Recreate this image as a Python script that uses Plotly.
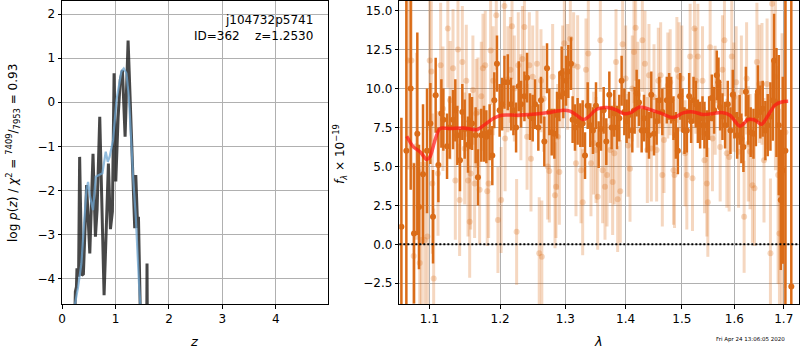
import plotly.graph_objects as go
import numpy as np

# ---------------- left panel: log p(z) ----------------
z_pz = [0.22, 0.24, 0.25, 0.27, 0.28, 0.31, 0.33, 0.37, 0.40, 0.46, 0.52, 0.58, 0.625,
        0.656, 0.706, 0.787, 0.83, 0.868, 0.906, 0.943, 0.974, 1.006, 1.05, 1.09, 1.13,
        1.18, 1.236, 1.36, 1.38, 1.415, 1.43, 1.47, 1.50, 1.585, 1.59, 1.60, 1.70]
logp_pz = [-6.0, -4.6, -4.3, -4.19, -3.77, -3.96, -1.24, -3.93, -3.9, -1.88, -3.43, -1.17,
           -3.05, -2.45, -0.33, -4.38, -2.6, -1.39, -2.88, -2.48, 0.66, -1.8, -0.33, 0.51,
           0.73, -0.78, 1.40, -2.86, -1.65, -2.85, -2.6, -4.7, -7.0, -5.0, -3.66, -6.0, -8.0]

z_tmpl = [0.22, 0.24, 0.30, 0.363, 0.41, 0.457, 0.488, 0.525, 0.58, 0.631, 0.693, 0.756,
          0.818, 0.856, 0.89, 0.955, 1.019, 1.068, 1.11, 1.155, 1.205, 1.25, 1.287, 1.33,
          1.38, 1.405, 1.44, 1.47, 1.50]
logp_tmpl = [-5.5, -4.6, -4.2, -3.66, -2.8, -1.99, -1.81, -2.14, -2.45, -1.69, -1.65, -1.61,
             -1.12, -1.35, -1.24, -0.86, 0.05, 0.43, 0.70, 0.77, 0.66, 0.13, -0.78, -1.69,
             -2.6, -3.36, -4.11, -4.7, -5.5]

z_ticks = [0, 1, 2, 3, 4]
logp_ticks = [-4, -3, -2, -1, 0, 1, 2]

# ---------------- right panel: spectrum ----------------
lam_bin = [1.0629, 1.0694, 1.0751, 1.0795, 1.0839, 1.0861, 1.0915, 1.0969, 1.1014, 1.1050,
           1.1086, 1.1123, 1.1164, 1.1191, 1.1242, 1.1278, 1.1325, 1.1357, 1.1385, 1.1422,
           1.1455, 1.1488, 1.1535, 1.1559, 1.1592, 1.1644, 1.1677, 1.1725, 1.1764, 1.1798,
           1.1846, 1.1885, 1.1914, 1.1953, 1.1992, 1.2029, 1.2063, 1.2113, 1.2162, 1.2197,
           1.2237, 1.2277, 1.2312, 1.2363, 1.2403, 1.2449, 1.2489, 1.2525, 1.2576, 1.2617,
           1.2669, 1.2711, 1.2747, 1.2784, 1.2826, 1.2868, 1.2905, 1.2942, 1.2968, 1.3011,
           1.3048, 1.3091, 1.3117, 1.3155, 1.3198, 1.3242, 1.3280, 1.3318, 1.3362, 1.3405,
           1.3449, 1.3499, 1.3543, 1.3582, 1.3627, 1.3671, 1.3722, 1.3761, 1.3806, 1.3852,
           1.3891, 1.3931, 1.3977, 1.4017, 1.4057, 1.4115, 1.4155, 1.4190, 1.4231, 1.4278,
           1.4319, 1.4366, 1.4407, 1.4448, 1.4496, 1.4543, 1.4591, 1.4645, 1.4726, 1.4768,
           1.4805, 1.4847, 1.4890, 1.4927, 1.4970, 1.5012, 1.5049, 1.5092, 1.5136, 1.5173,
           1.5217, 1.5260, 1.5298, 1.5341, 1.5386, 1.5423, 1.5468, 1.5512, 1.5563, 1.5607,
           1.5658, 1.5691, 1.5723, 1.5768, 1.5819, 1.5871, 1.5923, 1.5969, 1.6000, 1.6055,
           1.6104, 1.6138, 1.6179, 1.6228, 1.6276, 1.6324, 1.6380, 1.6428, 1.6469, 1.6518,
           1.6566, 1.6621, 1.6669, 1.6725, 1.6773, 1.6800, 1.6849, 1.6897, 1.6938, 1.6980,
           1.7035, 1.7159]
flux_bin = [1.13, 6.0, 10.0, 0.7, 7.1, 2.4, 4.5, 6.0, 7.75, 1.77,
            9.57, 5.1, 8.4, 8.0, 6.3, 7.5, 8.0, 8.6, 7.0, 5.4,
            8.5, 7.4, 6.4, 7.9, 7.75, 7.0, 4.3, 7.0, 7.1, 6.9,
            7.2, 5.7, 9.25, 11.6, 8.6, 9.0, 10.4, 10.4, 9.0, 8.6,
            7.5, 10.15, 9.0, 9.5, 10.7, 8.2, 8.1, 9.0, 7.5, 9.25,
            6.6, 11.3, 8.5, 7.2, 7.1, 8.3, 9.5, 11.0, 9.7, 10.5,
            11.1, 11.6, 8.0, 7.5, 7.9, 7.65, 7.75, 5.7, 8.9, 7.65,
            7.3, 8.9, 6.4, 7.4, 8.6, 6.6, 9.6, 7.5, 8.4, 7.5,
            8.1, 10.5, 8.5, 7.9, 8.3, 7.3, 8.6, 9.7, 9.1, 7.3,
            8.1, 7.3, 7.0, 9.6, 7.1, 7.9, 9.25, 8.5, 9.25, 9.5,
            9.25, 8.1, 7.0, 6.0, 9.5, 8.6, 7.3, 7.3, 9.5, 7.9,
            9.25, 9.0, 7.9, 7.65, 8.1, 7.65, 7.1, 8.1, 9.4, 8.6,
            10.85, 10.4, 8.8, 8.2, 7.65, 9.0, 7.3, 9.6, 8.3, 7.0,
            8.0, 6.8, 6.25, 9.8, 8.0, 7.2, 7.1, 8.0, 9.8, 8.5,
            8.7, 7.3, 7.65, 8.2, 9.25, 11.8, 9.1, 7.65, 2.85, 4.75,
            6.0, -2.7]
err_bin = [7.0, 14.0, 6.5, 4.5, 6.5, 4.0, 4.5, 4.0, 2.6, 3.0,
           2.4, 2.4, 2.2, 2.0, 2.1, 2.0, 1.9, 2.0, 1.9, 2.0,
           1.8, 1.9, 1.8, 1.8, 1.7, 1.8, 1.8, 1.7, 1.8, 1.7,
           1.8, 1.9, 1.8, 1.8, 1.7, 1.7, 1.7, 1.8, 1.7, 1.6,
           1.6, 1.6, 1.5, 1.6, 1.6, 1.5, 1.5, 1.6, 1.5, 1.5,
           1.6, 1.6, 1.5, 1.5, 1.6, 1.5, 1.6, 1.7, 1.6, 1.6,
           1.7, 1.7, 1.5, 1.5, 1.5, 1.4, 1.5, 1.5, 1.5, 1.4,
           1.5, 1.5, 1.5, 1.4, 1.5, 1.5, 1.5, 1.4, 1.5, 1.4,
           1.5, 1.6, 1.5, 1.4, 1.5, 1.4, 1.5, 1.5, 1.5, 1.4,
           1.5, 1.4, 1.5, 1.5, 1.4, 1.5, 1.5, 1.5, 1.5, 1.5,
           1.5, 1.4, 1.5, 1.5, 1.5, 1.4, 1.5, 1.4, 1.5, 1.4,
           1.5, 1.5, 1.4, 1.5, 1.4, 1.5, 1.5, 1.4, 1.5, 1.5,
           1.6, 1.6, 1.5, 1.5, 1.5, 1.5, 1.5, 1.6, 1.5, 1.5,
           1.6, 1.6, 1.6, 1.6, 1.6, 1.6, 1.6, 1.7, 1.7, 1.7,
           1.8, 1.9, 2.0, 2.2, 2.6, 3.0, 3.5, 4.5, 4.5, 6.0,
           25.0, 25.0]

lam_pix = [1.0715, 1.0760, 1.0791, 1.0827, 1.0871, 1.0893, 1.0938, 1.0974, 1.1005, 1.1027,
           1.1041, 1.1059, 1.1118, 1.1154, 1.1186, 1.1253, 1.1285, 1.1325, 1.1357, 1.1394,
           1.1417, 1.1455, 1.1488, 1.1511, 1.1535, 1.1559, 1.1573, 1.1605, 1.1629, 1.1652,
           1.1677, 1.1701, 1.1725, 1.1749, 1.1782, 1.1811, 1.1831, 1.1860, 1.1898, 1.1943,
           1.1967, 1.2014, 1.2063, 1.2073, 1.2113, 1.2152, 1.2176, 1.2211, 1.2245, 1.2270,
           1.2309, 1.2333, 1.2363, 1.2403, 1.2438, 1.2463,
           1.2489, 1.2555, 1.2590, 1.2617, 1.2630, 1.2659, 1.2721, 1.2747, 1.2799, 1.2836,
           1.2852, 1.2878, 1.2905, 1.2957, 1.2984, 1.3037, 1.3080, 1.3133, 1.3171, 1.3198,
           1.3253, 1.3280, 1.3334, 1.3372, 1.3416, 1.3460, 1.3499, 1.3527, 1.3571, 1.3610,
           1.3649, 1.3683, 1.3739, 1.3778, 1.3806, 1.3835, 1.3863, 1.3908, 1.3948, 1.4000,
           1.4040, 1.4075, 1.4115, 1.4144, 1.4173, 1.4213, 1.4290, 1.4336, 1.4378, 1.4407,
           1.4448, 1.4496, 1.4543, 1.4573, 1.4615, 1.4645, 1.4675,
           1.4744, 1.4787, 1.4847, 1.4866, 1.4909, 1.4951, 1.5000, 1.5061, 1.5092, 1.5154,
           1.5198, 1.5235, 1.5260, 1.5298, 1.5386, 1.5423, 1.5468, 1.5487, 1.5531, 1.5575,
           1.5627, 1.5723, 1.5768, 1.5806, 1.5852, 1.5897, 1.5949, 1.5990, 1.6035, 1.6083,
           1.6138, 1.6193, 1.6242, 1.6276, 1.6311, 1.6359, 1.6400, 1.6449, 1.6497, 1.6552,
           1.6593, 1.6656, 1.6725, 1.6759, 1.6828, 1.6883, 1.6911, 1.6966, 1.7035]
flux_pix = [11.8, 11.8, -0.75, 6.3, -1.2, 0.28, 0.28, 0.5, 11.8, 11.1,
            3.9, -2.2, 4.55, 11.5, 8.7, 13.85, 9.25, 11.3, 4.1, 12.5,
            2.85, 11.7, 6.15, 10.5, 4.1, 1.45, 4.55, 9.9, 3.9, 8.4,
            8.5, 3.5, 9.5, 11.3, 11.5, 3.4, 3.9, 12.45, 10.5, 14.7,
            1.56, 2.85, 15.3, 6.8, 10.6, 11.2, 14.0, 10.0, 0.8, 11.5,
            8.8, 11.9, 13.95, 6.9, 11.5, 5.5,
            10.75, 11.6, -0.58, 10.5, -0.79, 9.35, 5.0, 4.7, 10.75, 3.15,
            3.7, 6.9, 4.65, 10.75, 12.9, 10.75, 13.2, 11.5, 5.2, 11.4,
            4.75, 2.7, 11.2, 12.25, 5.2, 6.5, 6.05, 3.05, 13.1, 4.75,
            3.7, 4.45, 6.05, 4.0, 5.85, 11.7, 2.9, 3.4, 12.85, 10.65,
            6.35, 4.85, 10.0, 12.35, 13.9, 9.6, 13.1, 11.6, 6.05, 10.85,
            6.15, 9.45, 6.05, 10.5, 10.85, 4.45, 6.7,
            10.2, 10.4, 4.75, 4.45, 11.2, 10.75, 10.65, 5.85, 4.45, 12.05,
            4.25, 13.85, 10.5, 12.05, 10.5, 5.4, 3.9, 2.7, 12.65, 6.8,
            9.25, 6.25, 11.2, 13.1, 5.85, 5.6, 12.05, 9.45, 10.4, 5.95,
            9.8, 1.77, 10.65, 6.45, 5.95, 3.8, 3.6, 11.7, 10.3, 10.3,
            5.4, 10.3, -0.58, 15.45, 10.75, 4.45, 0.7, 4.55, 7.2]
err_pix = [7.0, 7.0, 6.0, 6.0, 6.0, 5.0, 5.0, 5.0, 4.5, 4.5,
           4.5, 4.5, 4.0, 4.0, 4.0, 3.8, 3.8, 3.8, 3.8, 3.8,
           3.6, 3.6, 3.6, 3.6, 3.6, 3.6, 3.6, 3.5, 3.5, 3.5,
           3.5, 3.5, 3.5, 3.5, 3.5, 3.5, 3.5, 3.5, 3.5, 3.5,
           3.4, 3.4, 3.4, 3.4, 3.4, 3.4, 3.4, 3.4, 3.4, 3.4,
           3.4, 3.4, 3.4, 3.4, 3.4, 3.4,
           3.3, 3.4, 3.6, 3.3, 3.6, 3.4, 3.4, 3.3, 3.4, 3.4,
           3.3, 3.4, 3.4, 3.3, 3.4, 3.4, 3.3, 3.4, 3.4, 3.3,
           3.4, 3.4, 3.3, 3.4, 3.4, 3.3, 3.4, 3.4, 3.3, 3.4,
           3.4, 3.3, 3.4, 3.4, 3.3, 3.4, 3.4, 3.3, 3.4, 3.4,
           3.3, 3.4, 3.4, 3.3, 3.4, 3.4, 3.3, 3.4, 3.4, 3.3,
           3.4, 3.4, 3.3, 3.4, 3.4, 3.3, 3.4,
           3.4, 3.4, 3.5, 3.4, 3.4, 3.5, 3.4, 3.4, 3.5, 3.4,
           3.4, 3.5, 3.4, 3.4, 3.5, 3.4, 3.4, 3.5, 3.4, 3.4,
           3.5, 3.5, 3.5, 3.6, 3.5, 3.5, 3.6, 3.5, 3.6, 3.6,
           3.6, 3.6, 3.6, 3.7, 3.7, 3.7, 3.7, 3.8, 3.8, 3.9,
           4.0, 4.2, 4.8, 6.0, 6.0, 7.0, 8.0, 9.0, 10.0]

lam_model = [1.0699, 1.0786, 1.0875, 1.0965, 1.1009, 1.1077, 1.1145, 1.1283, 1.1468, 1.1660,
             1.1755, 1.1899, 1.2023, 1.2246, 1.2448, 1.2706, 1.2968, 1.3075, 1.3183, 1.3291,
             1.3373, 1.3511, 1.3678, 1.3847, 1.3959, 1.4075, 1.4249, 1.4425, 1.4603, 1.4843,
             1.5027, 1.5213, 1.5400, 1.5590, 1.5752, 1.5913, 1.6110, 1.6275, 1.6409, 1.6544,
             1.6679, 1.6817, 1.6955, 1.7093]
flux_model = [6.94, 6.26, 5.94, 5.45, 5.62, 6.69, 7.43, 7.43, 7.47, 7.36,
              7.62, 8.08, 8.29, 8.29, 8.33, 8.44, 8.61, 8.55, 8.29, 8.01,
              8.18, 8.67, 8.78, 8.61, 8.40, 8.44, 8.82, 8.65, 8.44, 8.14,
              8.44, 8.50, 8.33, 8.40, 8.46, 8.29, 7.58, 8.01, 7.97, 7.71,
              8.29, 8.93, 9.14, 9.18]

lam_ticks = [1.1, 1.2, 1.3, 1.4, 1.5, 1.6, 1.7]
flux_ticks = [-2.5, 0.0, 2.5, 5.0, 7.5, 10.0, 12.5, 15.0]

# ---------------- styling ----------------
FONT = "DejaVu Sans"
ORANGE = "rgb(218,108,24)"
ORANGE_LIGHT = "rgba(218,108,24,0.27)"

fig = go.Figure()

fig.add_trace(go.Scatter(x=z_pz, y=logp_pz, mode="lines", xaxis="x", yaxis="y",
                         line=dict(color="rgba(30,30,30,0.82)", width=3), hoverinfo="skip"))
fig.add_trace(go.Scatter(x=z_tmpl, y=logp_tmpl, mode="lines", xaxis="x", yaxis="y",
                         line=dict(color="rgba(110,165,210,0.75)", width=2.2), hoverinfo="skip"))

fig.add_trace(go.Scatter(x=lam_pix, y=flux_pix, mode="markers", xaxis="x2", yaxis="y2",
                         marker=dict(color=ORANGE_LIGHT, size=6, line=dict(width=0)),
                         error_y=dict(type="data", array=err_pix, color=ORANGE_LIGHT,
                                      thickness=3, width=0),
                         cliponaxis=True, hoverinfo="skip"))
fig.add_trace(go.Scatter(x=lam_bin, y=flux_bin, mode="markers", xaxis="x2", yaxis="y2",
                         marker=dict(color=ORANGE, size=6, line=dict(width=0)),
                         error_y=dict(type="data", array=err_bin, color=ORANGE,
                                      thickness=2.5, width=0),
                         cliponaxis=True, hoverinfo="skip"))
fig.add_trace(go.Scatter(x=lam_model, y=flux_model, mode="lines", xaxis="x2", yaxis="y2",
                         line=dict(color="rgba(255,20,20,0.7)", width=3.5, shape="spline",
                                   smoothing=0.8),
                         hoverinfo="skip"))

axis_common = dict(showline=True, linecolor="black", linewidth=1, mirror=True,
                   ticks="outside", ticklen=3.5, tickwidth=1, tickcolor="black",
                   showgrid=True, gridcolor="#b0b0b0", gridwidth=0.8, zeroline=False,
                   tickfont=dict(family=FONT, size=12, color="black"))

fig.update_layout(
    width=800, height=350,
    margin=dict(l=62, r=1, t=1, b=46),
    paper_bgcolor="white", plot_bgcolor="white",
    showlegend=False,
    font=dict(family=FONT, size=12, color="black"),
    xaxis=dict(domain=[0, 0.3613], anchor="y", range=[0, 4.98], tickvals=z_ticks,
               **axis_common),
    yaxis=dict(domain=[0, 1], anchor="x", range=[-4.58, 2.30], tickvals=logp_ticks,
               **axis_common),
    xaxis2=dict(domain=[0.4577, 1], anchor="y2", type="log",
                range=[np.log10(1.0602), np.log10(1.7322)],
                tickvals=lam_ticks, ticktext=[f"{v:.1f}" for v in lam_ticks],
                **axis_common),
    yaxis2=dict(domain=[0, 1], anchor="x2", range=[-3.83, 15.62], tickvals=flux_ticks,
                tickformat=".1f", **axis_common),
)

fig.add_shape(type="line", xref="x2 domain", x0=0, x1=1, yref="y2", y0=0, y1=0,
              line=dict(color="black", width=2, dash="2px,2px"), layer="above")

def px_x(px):
    return (px - 62) / 737.0

def px_y(py):
    return (304 - py) / 303.0

ann = []
ann.append(dict(text="j104732p5741", x=px_x(315), y=px_y(20.5), xanchor="right",
                yanchor="middle", font=dict(size=12)))
ann.append(dict(text="ID=362\u00a0\u00a0\u00a0\u00a0z=1.2530", x=px_x(315), y=px_y(35.5),
                xanchor="right", yanchor="middle", font=dict(size=12)))
ann.append(dict(text="<i>z</i>", x=px_x(194), y=px_y(341), xanchor="center",
                yanchor="middle", font=dict(size=13)))
ann.append(dict(text="<i>λ</i>", x=px_x(598), y=px_y(341), xanchor="center",
                yanchor="middle", font=dict(size=13)))
ann.append(dict(text="log <i>p</i>(<i>z</i>) / <i>χ</i><sup>2</sup> = <sup>7409</sup>/<sub>7953</sub> = 0.93",
                x=px_x(13), y=px_y(153), xanchor="center", yanchor="middle",
                textangle=-90, font=dict(size=12)))
ann.append(dict(text="<i>f</i><sub><i>λ</i></sub> × 10<sup>−19</sup>", x=px_x(340),
                y=px_y(154), xanchor="center", yanchor="middle", textangle=-90,
                font=dict(size=12)))
ann.append(dict(text="Fri Apr 24 13:06:05 2020", x=px_x(787), y=px_y(339.5),
                xanchor="right", yanchor="middle", font=dict(size=5.5)))
for a in ann:
    a.update(xref="paper", yref="paper", showarrow=False)
fig.update_layout(annotations=ann)

fig.write_html("out.html")
